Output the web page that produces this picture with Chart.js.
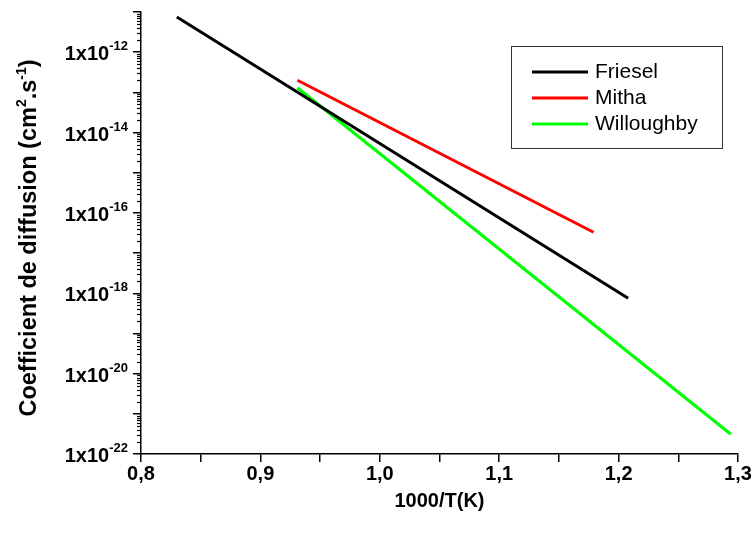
<!DOCTYPE html>
<html>
<head>
<meta charset="utf-8">
<script src="https://cdn.jsdelivr.net/npm/chart.js@4.4.0/dist/chart.umd.min.js"></script>
<style>
  html, body { margin: 0; padding: 0; background: #fff; }
</style>
</head>
<body>
<canvas id="chart" width="754" height="533"></canvas>
<script>
// series (straight lines on the log axis, so the ends are enough)
const seriesNames = ['Friesel', 'Mitha', 'Willoughby'];
const seriesColors = ['#000000', '#ff0000', '#00ff00'];
const frieselX = [0.830, 1.208];
const frieselY = [7.5e-12, 7.5e-19];
const mithaX = [0.931, 1.179];
const mithaY = [2.0e-13, 3.3e-17];
const willoughbyX = [0.931, 1.294];
const willoughbyY = [1.3e-13, 3.1e-22];

// axis ticks
const xTicks = [0.8, 0.85, 0.9, 0.95, 1.0, 1.05, 1.1, 1.15, 1.2, 1.25, 1.3];
const xLabelValues = [0.8, 0.9, 1.0, 1.1, 1.2, 1.3];
const xTickLabels = ['0,8', '0,9', '1,0', '1,1', '1,2', '1,3'];
const yDecades = [-22, -21, -20, -19, -18, -17, -16, -15, -14, -13, -12, -11];
const yLabelExps = [-12, -14, -16, -18, -20, -22];

const xTitle = '1000/T(K)';
const FONT = '"Liberation Sans", Arial, sans-serif';

const toPoints = (xs, ys) => xs.map((x, i) => ({ x: x, y: ys[i] }));
const seriesData = [
  toPoints(frieselX, frieselY),
  toPoints(mithaX, mithaY),
  toPoints(willoughbyX, willoughbyY)
];

// labels, minor ticks and legend drawn on top of the scales
const decorations = {
  id: 'decorations',
  afterDraw(chart) {
    const ctx = chart.ctx;
    const xs = chart.scales.x;
    const ys = chart.scales.y;
    ctx.save();
    ctx.fillStyle = '#000';
    ctx.strokeStyle = '#000';

    // minor log ticks
    ctx.lineWidth = 1.2;
    yDecades.forEach(d => {
      for (let k = 2; k <= 9; k++) {
        const v = k * Math.pow(10, d);
        if (v > ys.max) continue;
        const py = Math.round(ys.getPixelForValue(v)) + 0.5;
        ctx.beginPath();
        ctx.moveTo(xs.left - 4, py);
        ctx.lineTo(xs.left, py);
        ctx.stroke();
      }
    });

    // y labels 1x10^n
    yLabelExps.forEach(e => {
      const py = ys.getPixelForValue(Math.pow(10, e));
      const sup = String(e);
      ctx.font = 'bold 13px ' + FONT;
      const wSup = ctx.measureText(sup).width;
      ctx.font = 'bold 20px ' + FONT;
      const wBase = ctx.measureText('1x10').width;
      const right = xs.left - 13;
      ctx.textAlign = 'left';
      ctx.textBaseline = 'alphabetic';
      ctx.fillText('1x10', right - wSup - wBase, py + 8);
      ctx.font = 'bold 13px ' + FONT;
      ctx.fillText(sup, right - wSup, py - 2);
    });

    // x labels
    ctx.font = 'bold 20px ' + FONT;
    ctx.textAlign = 'center';
    ctx.textBaseline = 'top';
    xLabelValues.forEach((v, i) => {
      ctx.fillText(xTickLabels[i], xs.getPixelForValue(v), ys.bottom + 10);
    });
    ctx.fillText(xTitle, (xs.left + xs.right) / 2, ys.bottom + 37);

    // y title with superscripts, rotated
    const parts = [
      ['Coefficient de diffusion (cm', false],
      ['2', true],
      ['.s', false],
      ['-1', true],
      [')', false]
    ];
    const bigFont = 'bold 23.5px ' + FONT;
    const supFont = 'bold 14px ' + FONT;
    let total = 0;
    parts.forEach(p => {
      ctx.font = p[1] ? supFont : bigFont;
      total += ctx.measureText(p[0]).width;
    });
    ctx.translate(36, (ys.top + ys.bottom) / 2 + 5);
    ctx.rotate(-Math.PI / 2);
    ctx.textAlign = 'left';
    ctx.textBaseline = 'alphabetic';
    let cx = -total / 2;
    parts.forEach(p => {
      ctx.font = p[1] ? supFont : bigFont;
      ctx.fillText(p[0], cx, p[1] ? -10 : 0);
      cx += ctx.measureText(p[0]).width;
    });
    ctx.setTransform(1, 0, 0, 1, 0, 0);

    // legend box
    const bx = 511, by = 46, bw = 211, bh = 102;
    ctx.lineWidth = 1;
    ctx.strokeStyle = '#333';
    ctx.strokeRect(bx + 0.5, by + 0.5, bw, bh);
    ctx.font = '21px ' + FONT;
    ctx.textAlign = 'left';
    ctx.textBaseline = 'middle';
    chart.data.datasets.forEach((ds, i) => {
      const ly = by + 26 + i * 26;
      ctx.strokeStyle = ds.borderColor;
      ctx.lineWidth = 3;
      ctx.beginPath();
      ctx.moveTo(bx + 21, ly);
      ctx.lineTo(bx + 77, ly);
      ctx.stroke();
      ctx.fillStyle = '#000';
      ctx.fillText(ds.label, bx + 84, ly);
    });
    ctx.restore();
  }
};

new Chart(document.getElementById('chart'), {
  type: 'line',
  data: {
    datasets: seriesNames.map((name, i) => ({
      label: name,
      data: seriesData[i],
      borderColor: seriesColors[i],
      backgroundColor: seriesColors[i],
      borderWidth: 3,
      pointRadius: 0,
      tension: 0,
      fill: false
    }))
  },
  options: {
    responsive: false,
    animation: false,
    devicePixelRatio: 1,
    layout: { padding: { left: 133, right: 16, top: 12, bottom: 71 } },
    plugins: { legend: { display: false }, tooltip: { enabled: false } },
    scales: {
      x: {
        type: 'linear',
        min: 0.8,
        max: 1.3,
        afterBuildTicks: s => { s.ticks = xTicks.map(v => ({ value: v })); },
        ticks: { display: false },
        grid: { drawOnChartArea: false, tickLength: 8, color: '#000', lineWidth: 1.5 },
        border: { color: '#000', width: 1.5 }
      },
      y: {
        type: 'logarithmic',
        min: 1e-22,
        max: 1e-11,
        afterBuildTicks: s => { s.ticks = yDecades.map(d => ({ value: Math.pow(10, d) })); },
        ticks: { display: false },
        grid: { drawOnChartArea: false, tickLength: 8, color: '#000', lineWidth: 1.5 },
        border: { color: '#000', width: 1.5 }
      }
    }
  },
  plugins: [decorations]
});
</script>
</body>
</html>
